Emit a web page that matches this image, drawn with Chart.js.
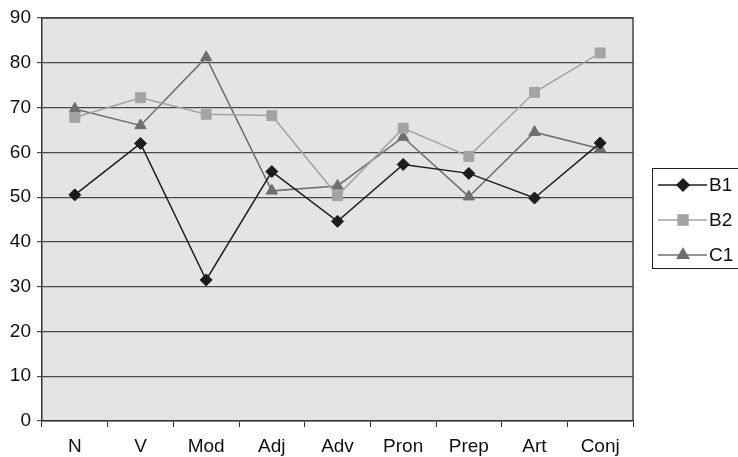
<!DOCTYPE html>
<html>
<head>
<meta charset="utf-8">
<script src="https://cdn.jsdelivr.net/npm/chart.js@4/dist/chart.umd.min.js"></script>
<style>
  html, body { margin: 0; padding: 0; background: #ffffff; }
  #wrap { width: 738px; height: 457px; }
</style>
</head>
<body>
<div id="wrap"><canvas id="c" width="738" height="457"></canvas></div>
<script>
// Word classes along the x axis
const categories = ['N', 'V', 'Mod', 'Adj', 'Adv', 'Pron', 'Prep', 'Art', 'Conj'];

// Percentages per group
const b1 = [50.5, 62.0, 31.5, 55.7, 44.6, 57.3, 55.3, 49.8, 62.1];
const b2 = [67.8, 72.2, 68.5, 68.2, 50.3, 65.4, 59.1, 73.4, 82.2];
const c1 = [69.7, 66.0, 81.2, 51.4, 52.5, 63.4, 50.1, 64.5, 60.8];

// Y axis range and step
const yTicks = { min: 0, max: 90, step: 10 };

const FONT = '"Liberation Sans", Arial, Helvetica, sans-serif';
const FONT_SIZE = 19;

// Gray plot background with a dark frame
const plotFrame = {
  id: 'plotFrame',
  beforeDraw(chart) {
    const { ctx, chartArea: a } = chart;
    ctx.save();
    ctx.fillStyle = '#e3e4e6';
    ctx.fillRect(a.left, a.top, a.right - a.left, a.bottom - a.top);
    ctx.restore();
  },
  afterDraw(chart) {
    const { ctx, chartArea: a } = chart;
    ctx.save();
    ctx.strokeStyle = '#444444';
    ctx.lineWidth = 1.5;
    ctx.beginPath();
    ctx.moveTo(a.left, a.top);
    ctx.lineTo(a.right, a.top);
    ctx.lineTo(a.right, a.bottom);
    ctx.stroke();
    ctx.restore();
  }
};

// Boxed legend on the right, drawn from the dataset styles
const boxLegend = {
  id: 'boxLegend',
  afterDraw(chart) {
    const { ctx } = chart;
    const left = 652.5, top = 168.5, right = 745, bottom = 268.5;
    ctx.save();
    ctx.fillStyle = '#ffffff';
    ctx.fillRect(left, top, right - left, bottom - top);
    ctx.strokeStyle = '#222222';
    ctx.lineWidth = 1;
    ctx.strokeRect(left, top, right - left, bottom - top);
    chart.data.datasets.forEach((ds, i) => {
      const y = 185 + i * 35;
      ctx.strokeStyle = ds.borderColor;
      ctx.lineWidth = ds.borderWidth;
      ctx.beginPath();
      ctx.moveTo(658, y);
      ctx.lineTo(707, y);
      ctx.stroke();
      ctx.fillStyle = ds.pointBackgroundColor;
      ctx.strokeStyle = ds.pointBorderColor;
      Chart.helpers.drawPoint(ctx, {
        pointStyle: ds.pointStyle,
        radius: ds.pointRadius,
        rotation: 0,
        borderWidth: 1
      }, 683, y);
      ctx.fillStyle = '#111111';
      ctx.font = FONT_SIZE + 'px ' + FONT;
      ctx.textBaseline = 'middle';
      ctx.textAlign = 'left';
      ctx.fillText(ds.label, 709, y + 1);
    });
    ctx.restore();
  }
};

function series(label, data, color, style, radius) {
  return {
    label,
    data,
    borderColor: color,
    borderWidth: 1.5,
    pointStyle: style,
    pointRadius: radius,
    pointHoverRadius: radius,
    pointBackgroundColor: color,
    pointBorderColor: color,
    pointBorderWidth: 1,
    tension: 0,
    fill: false
  };
}

new Chart(document.getElementById('c'), {
  type: 'line',
  data: {
    labels: categories,
    datasets: [
      series('B1', b1, '#1c1c1c', 'rectRot', 6),
      series('B2', b2, '#a3a3a3', 'rect', 7),
      series('C1', c1, '#6f6f6f', 'triangle', 6.5)
    ]
  },
  options: {
    responsive: false,
    animation: false,
    events: [],
    layout: { padding: { left: 0, top: 18, right: 105, bottom: 0 } },
    plugins: {
      legend: { display: false },
      tooltip: { enabled: false }
    },
    scales: {
      x: {
        offset: true,
        grid: {
          offset: true,
          drawOnChartArea: false,
          drawTicks: true,
          tickLength: 6,
          color: '#333333',
          lineWidth: 1
        },
        border: { display: true, color: '#333333', width: 1.5 },
        ticks: {
          color: '#111111',
          font: { family: FONT, size: FONT_SIZE },
          padding: 8,
          maxRotation: 0,
          autoSkip: false
        },
        afterFit(scale) { scale.height = 36; }
      },
      y: {
        min: yTicks.min,
        max: yTicks.max,
        grid: {
          drawTicks: true,
          tickLength: 5,
          color: '#4a4a4a',
          lineWidth: 1.2
        },
        border: { display: true, color: '#333333', width: 1.5 },
        ticks: {
          stepSize: yTicks.step,
          color: '#111111',
          font: { family: FONT, size: FONT_SIZE },
          padding: 6
        },
        afterFit(scale) { scale.width = 42; }
      }
    }
  },
  plugins: [plotFrame, boxLegend]
});
</script>
</body>
</html>
